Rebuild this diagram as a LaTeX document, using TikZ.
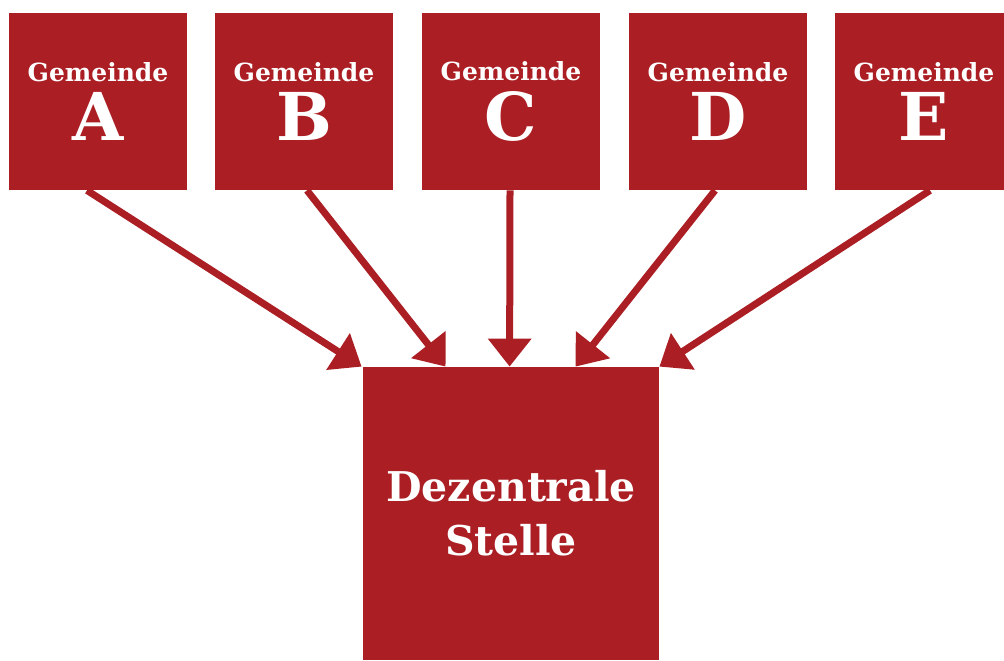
\documentclass[tikz,border=0pt]{standalone}
\usepackage{fontspec}
\setmainfont{DejaVu Serif}
\usetikzlibrary{arrows.meta,calc}
\definecolor{boxred}{RGB}{170,30,36}
\tikzset{
  gbox/.style={fill=boxred, draw=none, minimum width=89pt, minimum height=88.5pt, inner sep=0pt, text=white, align=center, font=\bfseries},
  sbox/.style={fill=boxred, draw=none, minimum width=148pt, minimum height=146.5pt, inner sep=0pt, text=white, align=center, font=\bfseries\fontsize{20.5}{27}\selectfont},
  flow/.style={draw=boxred, line width=3.5pt, -{Triangle[width=21pt,length=14pt]}},
}
\newcommand{\gem}[1]{{\fontsize{12.5}{13}\selectfont Gemeinde}\\[4pt]{\fontsize{33}{33}\selectfont #1}}
\begin{document}
\begin{tikzpicture}[x=0.5pt,y=-0.5pt]
\useasboundingbox (0,0) rectangle (1004,660);
\begin{scope}
\clip (0,0) rectangle (1004,660);
\node[gbox] (A) at (98,101.5) {\gem{A}};
\node[gbox] (B) at (304,101.5) {\gem{B}};
\node[gbox] (C) at (511,101.5) {\gem{C}};
\node[gbox] (D) at (718,101.5) {\gem{D}};
\node[gbox] (E) at (924,101.5) {\gem{E}};
\node[sbox] (S) at (511,513.5) {Dezentrale\\Stelle};
\end{scope}
\coordinate (tA) at ($(S.north west)+(-1,0)$);
\coordinate (tB) at ($(S.north west)+(83,0)$);
\coordinate (tC) at ($(S.north west)+(147,0)$);
\coordinate (tD) at ($(S.north west)+(213,0)$);
\coordinate (tE) at ($(S.north east)+(0,0)$);
\draw[flow] ($(A.south)+(-11,0)$) -- (tA);
\draw[flow] ($(B.south)+(3,0)$) -- (tB);
\draw[flow] ($(C.south)+(-1,0)$) -- (tC);
\draw[flow] ($(D.south)+(-3,0)$) -- (tD);
\draw[flow] ($(E.south)+(6,0)$) -- (tE);
\end{tikzpicture}
\end{document}
